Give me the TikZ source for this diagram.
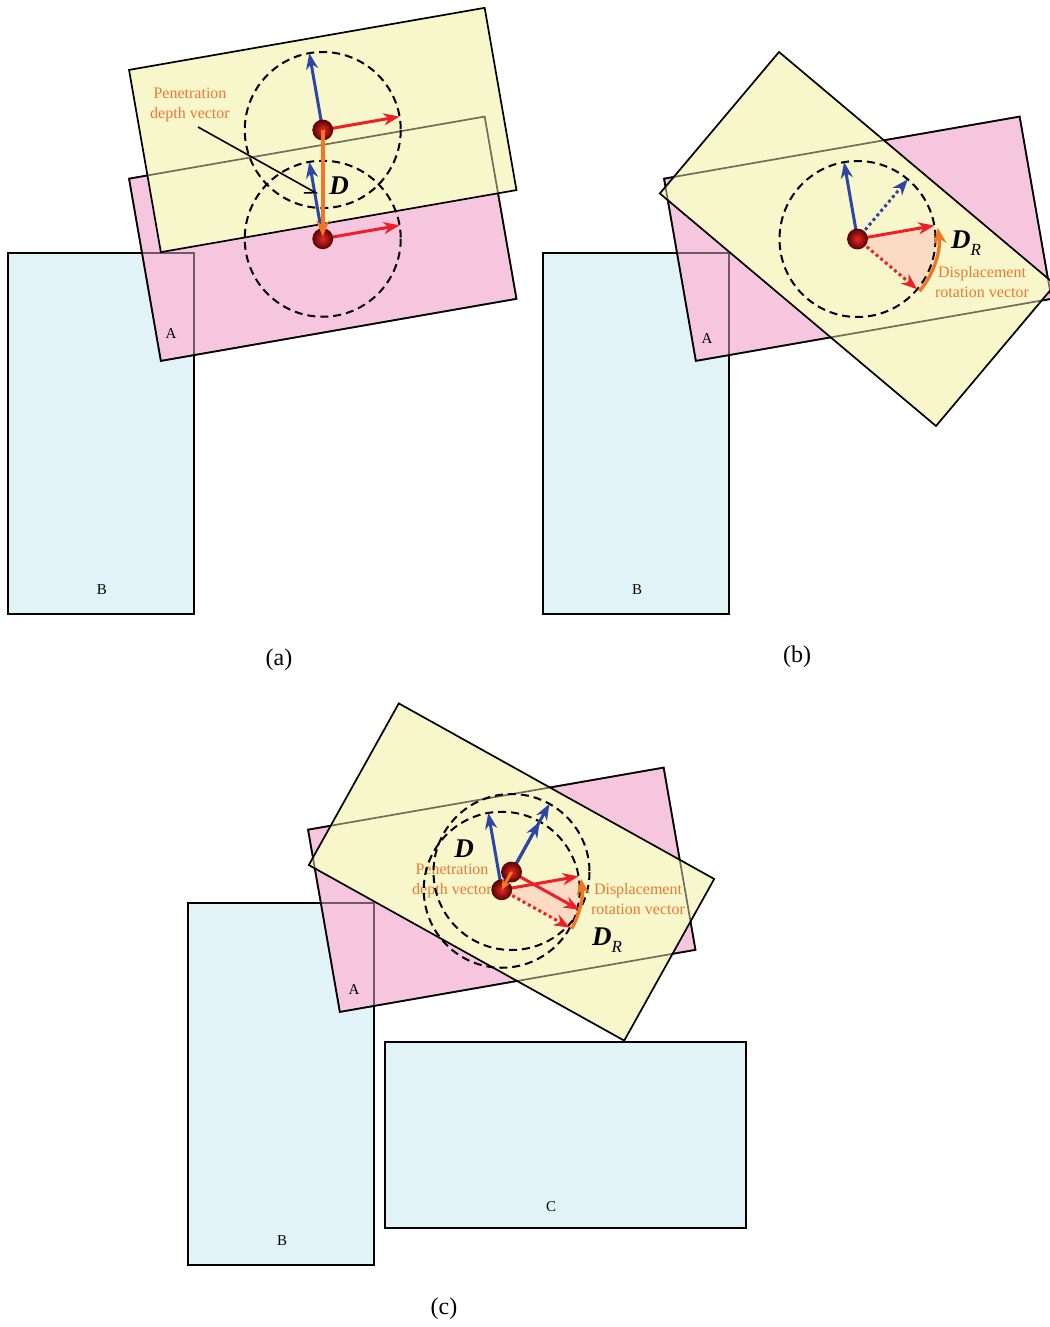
\documentclass[tikz,border=0pt]{standalone}
\usepackage{fontspec}
\setmainfont{Liberation Serif}
\usetikzlibrary{arrows.meta,calc}
\definecolor{yfill}{RGB}{247,247,203}
\definecolor{pfill}{RGB}{245,198,222}
\definecolor{bfill}{RGB}{226,243,247}
\definecolor{vblue}{RGB}{45,70,165}
\definecolor{vred}{RGB}{236,32,38}
\definecolor{vorange}{RGB}{242,118,36}
\definecolor{torange}{RGB}{238,120,50}
\definecolor{sectfill}{RGB}{252,219,196}
\definecolor{ballin}{RGB}{235,40,35}
\definecolor{ballout}{RGB}{90,5,5}
\tikzset{
  boxline/.style={draw=black, line width=1.7pt, line join=miter},
  yellowbox/.style={boxline, fill=yfill},
  pinkbox/.style={boxline, fill=pfill},
  bluebox/.style={boxline, fill=bfill},
  hiddenline/.style={draw=black, draw opacity=0.55, line width=1.7pt},
  guide/.style={draw=black, line width=2pt, dash pattern=on 8pt off 5pt},
  vtip/.style={-{Stealth[length=16pt,width=12pt,inset=5pt]}},
  bluearr/.style={vtip, draw=vblue, line width=3pt},
  redarr/.style={vtip, draw=vred, line width=3pt},
  dotline/.style={dash pattern=on 3pt off 3pt},
  orangearr/.style={-{Stealth[length=16pt,width=13pt,inset=5pt]}, draw=vorange, line width=4.2pt},
  pointer/.style={-{Straight Barb[right,length=10pt,width=12pt]}, draw=black, line width=1.6pt},
  lbl/.style={font=\fontsize{15}{17}\selectfont, text=black},
  captext/.style={font=\fontsize{24}{28}\selectfont, text=black},
  otext/.style={font=\fontsize{16}{19.5}\selectfont, text=torange, align=center},
  bigD/.style={font=\fontsize{27}{30}\selectfont\bfseries\itshape, text=black, inner sep=0pt},
}
\newcommand\myrect[4]{\path[#1, shift={(#2,#3)}, rotate=#4] (-180.5,-92.5) rectangle (180.5,92.5);}
\newcommand\mydot[1]{\shade[inner color=ballin, outer color=ballout] (#1) circle (10);\draw[ballout, line width=0.8pt] (#1) circle (10);}
\begin{document}
\begin{tikzpicture}[x=1pt,y=-1pt]
\useasboundingbox[fill=white] (0,0) rectangle (1049,1327);

% ================= (a) =================
\coordinate (a1) at (322.75,130);
\coordinate (a2) at (322.75,238.75);
\draw[bluebox] (8,253) rectangle (194,614);
\myrect{pinkbox}{322.75}{238.75}{9.9}
\draw[hiddenline] (8,253) rectangle (194,614);
\myrect{yellowbox}{322.75}{130}{9.9}
\myrect{hiddenline}{322.75}{238.75}{9.9}
\node[lbl] (aB) at (102,590) {B};
\node[lbl] (aA) at (171,334) {A};
\draw[guide] (a1) circle (78);
\draw[guide] (a2) circle (78);
\coordinate (a1b) at ($(a1)+(-99.9:78)$);
\coordinate (a1r) at ($(a1)+(-9.9:78)$);
\coordinate (a2b) at ($(a2)+(-99.9:78)$);
\coordinate (a2r) at ($(a2)+(-9.9:78)$);
\draw[bluearr] (a1) -- (a1b);
\draw[redarr] (a1) -- (a1r);
\draw[bluearr] (a2) -- (a2b);
\draw[redarr] (a2) -- (a2r);
\node[otext] (apen) at (190,105) {Penetration\\depth vector};
\coordinate (ptrS) at (198,127);
\coordinate (ptrE) at (318,194);
\draw[pointer] (ptrS) -- (ptrE);
\node[bigD] (aD) at (339,186) {D};
\mydot{a1}
\mydot{a2}
\draw[orangearr] (a1) -- ($(a2)+(0,-2)$);
\node[captext] (capa) at (279,660) {(a)};

% ================= (b) =================
\coordinate (bc) at (857.5,239);
\draw[bluebox] (543,253) rectangle (729,614);
\myrect{pinkbox}{857.75}{238.75}{9.9}
\draw[hiddenline] (543,253) rectangle (729,614);
\myrect{yellowbox}{857.5}{239}{-40.1}
\myrect{hiddenline}{857.75}{238.75}{9.9}
\node[lbl] (bB) at (637,590) {B};
\node[lbl] (bA) at (707,339) {A};
\fill[sectfill] (bc) -- ($(bc)+(-9.9:78)$) arc[start angle=-9.9, end angle=40.1, radius=78] -- cycle;
\draw[guide] (bc) circle (78);
\coordinate (bbs) at ($(bc)+(-99.9:78)$);
\coordinate (bbd) at ($(bc)+(-49.9:78)$);
\coordinate (brs) at ($(bc)+(-9.9:78)$);
\coordinate (brd) at ($(bc)+(40.1:78)$);
\draw[bluearr] (bc) -- (bbs);
\draw[bluearr, dotline] (bc) -- (bbd);
\draw[redarr] (bc) -- (brs);
\draw[redarr, dotline] (bc) -- (brd);
\draw[orangearr, line width=3.4pt] ($(bc)+(40.1:81)$) arc[start angle=40.1, end angle=-8, radius=81];
\mydot{bc}
\node[inner sep=0pt] (bDR) at (966,243) {\fontsize{27}{30}\selectfont\bfseries\itshape D\fontsize{17}{20}\selectfont\mdseries\raisebox{-7pt}{R}};
\node[otext] (bdisp) at (982,282) {Displacement\\rotation vector};
\node[captext] (capb) at (797,657) {(b)};

% ================= (c) =================
\coordinate (c1) at (511.5,872);
\coordinate (c2) at (501.75,889.75);
\draw[bluebox] (188,903) rectangle (374,1265);
\draw[bluebox] (385,1042) rectangle (746,1228);
\myrect{pinkbox}{501.75}{889.75}{9.9}
\draw[hiddenline] (188,903) rectangle (374,1265);
\myrect{yellowbox}{511.5}{872}{-29.1}
\myrect{hiddenline}{501.75}{889.75}{9.9}
\node[lbl] (cB) at (282,1241) {B};
\node[lbl] (cC) at (551,1207) {C};
\node[lbl] (cA) at (354,990) {A};
\fill[sectfill] (c2) -- ($(c2)+(-9.9:78)$) arc[start angle=-9.9, end angle=29.1, radius=78] -- cycle;
\node[otext] (cpen) at (452,881) {Penetration\\depth vector};
\node[otext] (cdisp) at (638,899) {Displacement\\rotation vector};
\draw[guide] (c1) circle (78);
\draw[guide] (c2) circle (78);
\coordinate (c2b) at ($(c2)+(-99.9:78)$);
\coordinate (c2r) at ($(c2)+(-9.9:78)$);
\coordinate (c2rd) at ($(c2)+(29.1:78)$);
\coordinate (c2bb) at ($(c2)+(-60.9:78)$);
\coordinate (c1b) at ($(c1)+(-60.9:78)$);
\coordinate (c1r) at ($(c1)+(29.1:78)$);
\draw[bluearr] (c2) -- (c2b);
\draw[bluearr] (c2) -- (c2bb);
\draw[bluearr] (c1) -- (c1b);
\draw[redarr] (c2) -- (c2r);
\draw[redarr] (c1) -- (c1r);
\draw[redarr, dotline] (c2) -- (c2rd);
\draw[orangearr, line width=3.4pt] ($(c2)+(29.1:80)$) arc[start angle=29.1, end angle=-8, radius=80];
\mydot{c1}
\mydot{c2}
\draw[orangearr, line width=3pt, -{Stealth[length=10pt,width=9pt,inset=3pt]}] (c1) -- (c2);
\node[bigD] (cD) at (464,849) {D};
\node[inner sep=0pt] (cDR) at (607,940) {\fontsize{27}{30}\selectfont\bfseries\itshape D\fontsize{17}{20}\selectfont\mdseries\raisebox{-7pt}{R}};
\node[captext] (capc) at (444,1309) {(c)};
\end{tikzpicture}
\end{document}
